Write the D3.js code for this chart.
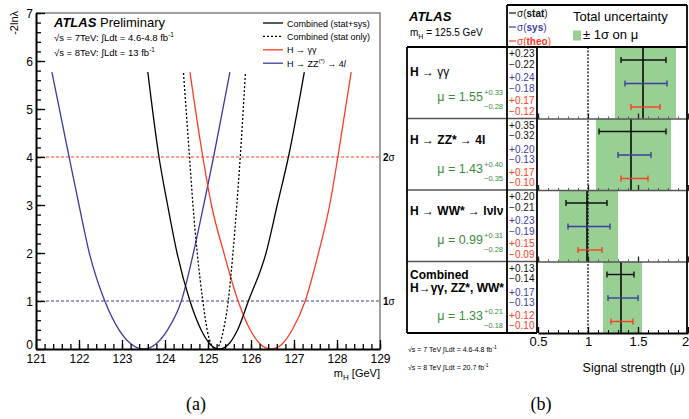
<!DOCTYPE html>
<html>
<head>
<meta charset="utf-8">
<script src="https://cdn.jsdelivr.net/npm/d3@7"></script>
<style>
  body { margin: 0; background: #fff; }
  svg { font-family: "Liberation Sans", Arial, sans-serif; }
</style>
</head>
<body>
<svg id="fig" width="689" height="419"></svg>
<script>
// ---- panel (a): -2 ln(lambda) scans, [mH, value]
var combined = [[123.60,5.77],[123.86,4.0],[124.06,3.0],[124.28,2.0],[124.58,1.0],[124.85,0.38],[125.05,0.1],[125.26,0],
                [125.50,0.12],[125.70,0.42],[125.94,1.0],[126.35,2.0],[126.61,3.0],[126.87,4.0],[127.24,5.77]];
var statOnly = [[124.43,5.75],[124.57,4.0],[124.65,3.0],[124.75,2.0],[124.88,1.0],[124.98,0.4],[125.07,0.1],[125.17,0],
                [125.27,0.1],[125.36,0.4],[125.47,1.0],[125.58,2.0],[125.67,3.0],[125.75,4.0],[125.87,5.75]];
var gamgam = [[124.58,5.77],[124.88,4.0],[125.08,3.0],[125.37,2.0],[125.70,1.0],[125.98,0.4],[126.22,0.1],[126.47,0],
              [126.72,0.1],[126.96,0.4],[127.26,1.0],[127.57,2.0],[127.83,3.0],[128.02,4.0],[128.33,5.77]];
var zz4l = [[121.37,5.77],[121.77,4.0],[122.00,3.0],[122.24,2.0],[122.60,1.0],[122.93,0.4],[123.22,0.1],[123.50,0],
            [123.78,0.1],[124.06,0.4],[124.38,1.0],[124.66,2.0],[124.90,3.0],[125.13,4.0],[125.51,5.77]];
var massTicks = [121, 122, 123, 124, 125, 126, 127, 128, 129];
var lnlTicks = [0, 1, 2, 3, 4, 5, 6, 7];
var sigmaLevels = [1, 4];
var sigmaNames = ["1", "2"];

// ---- panel (b): signal strength per channel
var channels = ["gg", "zz", "ww", "comb"];
var mu = [1.55, 1.43, 0.99, 1.33];
var totUp = [0.33, 0.40, 0.31, 0.21];
var totDn = [0.28, 0.35, 0.28, 0.18];
var statUp = [0.23, 0.35, 0.20, 0.13];
var statDn = [0.22, 0.32, 0.21, 0.14];
var sysUp = [0.24, 0.20, 0.23, 0.17];
var sysDn = [0.18, 0.13, 0.19, 0.13];
var theoUp = [0.17, 0.17, 0.15, 0.12];
var theoDn = [0.12, 0.10, 0.09, 0.10];
var muTicks = [0.5, 1, 1.5, 2];

var svg = d3.select("#fig");
var RED = "#ff3b22", BLUE = "#3c3ca2", GREEN = "#98cf92", GTXT = "#3d8c3d";

// =================== panel (a) ===================
var a = svg.append("g");
var x = d3.scaleLinear().domain([121, 129]).range([36, 380]);
var y = d3.scaleLinear().domain([0, 7]).range([349, 13]);

// frame (top / right, grey)
a.append("path")
  .attr("d", "M" + x(121) + "," + y(7) + "H" + x(129) + "V" + y(0))
  .attr("fill", "none").attr("stroke", "#808080").attr("stroke-width", 1.5);

// reference lines
a.selectAll(".ref").data(sigmaLevels).enter().append("line")
  .attr("x1", x(121)).attr("x2", x(129))
  .attr("y1", function(d) { return y(d); }).attr("y2", function(d) { return y(d); })
  .attr("stroke", function(d, i) { return i ? RED : BLUE; })
  .attr("stroke-width", 1).attr("stroke-dasharray", "3,2");
a.selectAll(".sig").data(sigmaLevels).enter().append("text")
  .attr("x", x(129) + 3).attr("y", function(d) { return y(d) + 4; })
  .attr("font-size", 10)
  .each(function(d, i) {
    var t = d3.select(this);
    t.append("tspan").attr("font-weight", "bold").text(sigmaNames[i]);
    t.append("tspan").text("σ");
  });

// curves
var line = d3.line()
  .x(function(d) { return x(d[0]); })
  .y(function(d) { return y(d[1]); })
  .curve(d3.curveMonotoneX);
var curves = [
  {data: zz4l, color: BLUE, dash: null},
  {data: gamgam, color: RED, dash: null},
  {data: statOnly, color: "#000", dash: "2,2"},
  {data: combined, color: "#000", dash: null}
];
a.selectAll(".curve").data(curves).enter().append("path")
  .attr("d", function(d) { return line(d.data); })
  .attr("fill", "none")
  .attr("stroke", function(d) { return d.color; })
  .attr("stroke-width", 1.3)
  .attr("stroke-dasharray", function(d) { return d.dash; });

// axes
var xAxis = d3.axisBottom(x).tickValues(massTicks).tickSizeInner(-9).tickSizeOuter(0).tickPadding(6);
var xMinor = d3.axisBottom(x).tickValues(d3.range(121, 129.001, 0.2)).tickSize(-5).tickFormat("");
var yAxis = d3.axisLeft(y).tickValues(lnlTicks).tickSizeInner(-9).tickSizeOuter(0).tickPadding(3)
  .tickFormat(d3.format("d"));
var yMinor = d3.axisLeft(y).tickValues(d3.range(0, 7.001, 0.2)).tickSize(-5).tickFormat("");

a.append("g").attr("transform", "translate(0," + y(0) + ")").call(xMinor).call(function(g) { g.select(".domain").remove(); });
a.append("g").attr("transform", "translate(" + x(121) + ",0)").call(yMinor).call(function(g) { g.select(".domain").remove(); });
a.append("g").attr("class", "xa").attr("transform", "translate(0," + y(0) + ")").call(xAxis);
a.append("g").attr("class", "ya").attr("transform", "translate(" + x(121) + ",0)").call(yAxis);
a.selectAll(".tick line").attr("stroke", "#000").attr("stroke-width", 1.3);
a.selectAll(".domain").attr("stroke", "#000").attr("stroke-width", 2);
a.selectAll(".xa text, .ya text").attr("font-size", 12).attr("font-family", null).attr("fill", "#000");
a.selectAll(".xa text").attr("dy", "0.66em");
a.selectAll(".ya text").attr("dy", "0.36em");
a.selectAll(".ya text").filter(function(d) { return d === 0; }).attr("dy", "-0.05em");

// axis titles
var xt = a.append("text").attr("x", x(129)).attr("y", 377).attr("text-anchor", "end").attr("font-size", 11);
xt.append("tspan").text("m");
xt.append("tspan").attr("font-size", 8).attr("dy", 3).text("H");
xt.append("tspan").attr("dy", -3).text(" [GeV]");
a.append("text").attr("transform", "translate(18,11) rotate(-90)")
  .attr("text-anchor", "end").attr("font-size", 11).text("-2lnλ");

// labels
var at = a.append("text").attr("x", 54).attr("y", 27).attr("font-size", 13);
at.append("tspan").attr("font-weight", "bold").attr("font-style", "italic").text("ATLAS");
at.append("tspan").text(" Preliminary");
a.append("text").attr("x", 54).attr("y", 41).attr("font-size", 9.5)
  .html('√s = 7TeV: ∫Ldt = 4.6-4.8 fb<tspan font-size="6.5" dy="-4">-1</tspan>');
a.append("text").attr("x", 54).attr("y", 56).attr("font-size", 9.5)
  .html('√s = 8TeV: ∫Ldt = 13 fb<tspan font-size="6.5" dy="-4">-1</tspan>');

// legend
var legA = [
  {t: "Combined (stat+sys)", c: "#000", dash: null},
  {t: "Combined (stat only)", c: "#000", dash: "2,2"},
  {t: 'H → γγ', c: RED, dash: null},
  {t: 'H → ZZ<tspan font-size="6" dy="-4">(*)</tspan><tspan dy="4"> → 4</tspan><tspan font-style="italic">l</tspan>', c: BLUE, dash: null}
];
var lg = a.selectAll(".lg").data(legA).enter().append("g")
  .attr("transform", function(d, i) { return "translate(263," + (23 + i * 13.4) + ")"; });
lg.append("line").attr("x1", 0).attr("x2", 20)
  .attr("stroke", function(d) { return d.c; }).attr("stroke-width", 1.3)
  .attr("stroke-dasharray", function(d) { return d.dash; });
lg.append("text").attr("x", 24).attr("y", 3.5).attr("font-size", 9).html(function(d) { return d.t; });

// (a)
svg.append("text").attr("x", 196).attr("y", 410).attr("text-anchor", "middle")
  .attr("font-family", "Liberation Serif, serif").attr("font-size", 18).text("(a)");

// =================== panel (b) ===================
var b = svg.append("g");
var xm = d3.scaleLinear().domain([0.5, 2]).range([538, 688]);
var row = d3.scaleBand().domain(channels).range([47, 333]);
var kind = d3.scalePoint().domain(["stat", "sys", "theo"]).range([13, 60]);
var kindColor = {stat: "#111", sys: BLUE, theo: RED};
var rh = row.bandwidth();

// green total-uncertainty bands and central values
channels.forEach(function(c, i) {
  var top = row(c);
  b.append("rect")
    .attr("x", xm(mu[i] - totDn[i])).attr("y", top)
    .attr("width", xm(mu[i] + totUp[i]) - xm(mu[i] - totDn[i])).attr("height", rh)
    .attr("fill", GREEN);
});
// mu = 1 dashed
b.append("line").attr("x1", xm(1)).attr("x2", xm(1)).attr("y1", 47).attr("y2", 333)
  .attr("stroke", "#000").attr("stroke-width", 1.2).attr("stroke-dasharray", "2,1.5");
channels.forEach(function(c, i) {
  var top = row(c);
  b.append("line").attr("x1", xm(mu[i])).attr("x2", xm(mu[i]))
    .attr("y1", top).attr("y2", top + rh).attr("stroke", "#000").attr("stroke-width", 1.5);
  var errs = [
    {k: "stat", lo: statDn[i], hi: statUp[i]},
    {k: "sys", lo: sysDn[i], hi: sysUp[i]},
    {k: "theo", lo: theoDn[i], hi: theoUp[i]}
  ];
  errs.forEach(function(e) {
    var yy = top + kind(e.k);
    var x0 = xm(mu[i] - e.lo), x1 = xm(mu[i] + e.hi);
    var g = b.append("g").attr("stroke", kindColor[e.k]).attr("stroke-width", 1.4);
    g.append("line").attr("x1", x0).attr("x2", x1).attr("y1", yy).attr("y2", yy);
    g.append("line").attr("x1", x0).attr("x2", x0).attr("y1", yy - 3).attr("y2", yy + 3);
    g.append("line").attr("x1", x1).attr("x2", x1).attr("y1", yy - 3).attr("y2", yy + 3);
  });
});

// row separators with their own small ticks
channels.slice(1).forEach(function(c) {
  var yy = row(c);
  b.append("line").attr("x1", 407).attr("x2", 537).attr("y1", yy).attr("y2", yy)
    .attr("stroke", "#555").attr("stroke-width", 1.6);
  b.append("g").attr("transform", "translate(0," + yy + ")")
    .call(d3.axisBottom(xm).tickValues(d3.range(0.5, 2.001, 0.1)).tickSize(-2).tickFormat(""))
    .call(function(g) { g.select(".domain").attr("stroke", "#555").attr("stroke-width", 1.6); g.selectAll("line").attr("stroke", "#555"); });
  b.append("g").attr("transform", "translate(0," + yy + ")")
    .call(d3.axisBottom(xm).tickValues(muTicks).tickSize(-5).tickFormat(""))
    .call(function(g) { g.select(".domain").remove(); g.selectAll("line").attr("stroke", "#222").attr("stroke-width", 1.3); });
});

// bottom axis
b.append("g").attr("transform", "translate(0,333)")
  .call(d3.axisBottom(xm).tickValues(d3.range(0.5, 2.001, 0.1)).tickSize(-3).tickFormat(""))
  .call(function(g) { g.select(".domain").remove(); g.selectAll("line").attr("stroke", "#000"); });
b.append("g").attr("class", "ba").attr("transform", "translate(0,333)")
  .call(d3.axisBottom(xm).tickValues(muTicks).tickSizeInner(-6).tickSizeOuter(0).tickPadding(4).tickFormat(d3.format("")))
  .call(function(g) {
    g.select(".domain").attr("stroke", "#000").attr("stroke-width", 2);
    g.selectAll("line").attr("stroke", "#000").attr("stroke-width", 1.3);
    g.selectAll("text").attr("font-size", 13).attr("font-family", null).attr("fill", "#000");
    g.selectAll("text").filter(function(d) { return d === 2; }).attr("dx", -3);
  });
b.append("text").attr("x", 685).attr("y", 372).attr("text-anchor", "end").attr("font-size", 12.5)
  .text("Signal strength (μ)");

// frame lines
var frame = [
  [407, 47, 687, 47], [407, 47, 407, 333], [407, 333, 537, 333],
  [507, 5, 507, 333], [537, 47, 537, 333], [507, 5, 687, 5], [687, 5, 687, 333]
];
b.selectAll(".fr").data(frame).enter().append("line")
  .attr("x1", function(d) { return d[0]; }).attr("y1", function(d) { return d[1]; })
  .attr("x2", function(d) { return d[2]; }).attr("y2", function(d) { return d[3]; })
  .attr("stroke", "#000").attr("stroke-width", 1.8);

// header texts
b.append("text").attr("x", 409).attr("y", 21).attr("font-size", 13)
  .attr("font-weight", "bold").attr("font-style", "italic").text("ATLAS");
b.append("text").attr("x", 410).attr("y", 36).attr("font-size", 10)
  .html('m<tspan font-size="7" dy="2.5">H</tspan><tspan dy="-2.5"> = 125.5 GeV</tspan>');

var kinds = ["stat", "sys", "theo"];
kinds.forEach(function(k, i) {
  var yy = 13 + i * 14;
  b.append("line").attr("x1", 509).attr("x2", 516).attr("y1", yy).attr("y2", yy)
    .attr("stroke", kindColor[k]).attr("stroke-width", 1.2);
  b.append("text").attr("x", 517).attr("y", yy + 3.5).attr("font-size", 10)
    .attr("fill", kindColor[k])
    .html('σ(<tspan font-weight="bold">' + k + '</tspan>)');
});
b.append("text").attr("x", 573).attr("y", 21).attr("font-size", 13).text("Total uncertainty");
b.append("rect").attr("x", 573).attr("y", 30.5).attr("width", 8).attr("height", 10).attr("fill", GREEN);
b.append("text").attr("x", 583).attr("y", 39).attr("font-size", 13).text("± 1σ on μ");

// row labels
var rowLabels = [
  ['<tspan font-weight="bold">H</tspan> → γγ'],
  ['<tspan font-weight="bold">H</tspan> → <tspan font-weight="bold">ZZ*</tspan> → <tspan font-weight="bold">4l</tspan>'],
  ['<tspan font-weight="bold">H</tspan> → <tspan font-weight="bold">WW*</tspan> → <tspan font-weight="bold">lνlν</tspan>'],
  ['<tspan font-weight="bold">Combined</tspan>', '<tspan font-weight="bold">H→γγ, ZZ*, WW*</tspan>']
];
var labelDy = [[29], [25], [25], [17, 30]];
var muDy = [54, 54, 54, 58];
channels.forEach(function(c, i) {
  var top = row(c);
  rowLabels[i].forEach(function(s, j) {
    b.append("text").attr("x", 410).attr("y", top + labelDy[i][j]).attr("font-size", 12).html(s);
  });
  b.append("text").attr("x", 483).attr("y", top + muDy[i]).attr("text-anchor", "end")
    .attr("font-size", 12.5).attr("fill", GTXT).text("μ = " + mu[i].toFixed(2));
  b.append("text").attr("x", 484).attr("y", top + muDy[i] - 6).attr("font-size", 7.5)
    .attr("fill", GTXT).text("+" + totUp[i].toFixed(2));
  b.append("text").attr("x", 484).attr("y", top + muDy[i] + 8).attr("font-size", 7.5)
    .attr("fill", GTXT).text("−" + totDn[i].toFixed(2));

  var nums = [
    {k: "stat", up: statUp[i], dn: statDn[i], dy: 10},
    {k: "sys", up: sysUp[i], dn: sysDn[i], dy: 34},
    {k: "theo", up: theoUp[i], dn: theoDn[i], dy: 57}
  ];
  nums.forEach(function(n) {
    [["+", n.up, 0], ["−", n.dn, 10.5]].forEach(function(p) {
      var t = b.append("text").attr("x", 509).attr("y", top + n.dy + p[2]).attr("font-size", 10)
        .attr("fill", kindColor[n.k]);
      t.append("tspan").text(p[0]);
      t.append("tspan").attr("x", 515).text(p[1].toFixed(2));
    });
  });
});

// luminosity notes
b.append("text").attr("x", 408).attr("y", 352).attr("font-size", 7)
  .html('√s = 7 TeV ∫Ldt = 4.6-4.8 fb<tspan font-size="5" dy="-3">-1</tspan>');
b.append("text").attr("x", 408).attr("y", 370).attr("font-size", 7)
  .html('√s = 8 TeV ∫Ldt = 20.7 fb<tspan font-size="5" dy="-3">-1</tspan>');

svg.append("text").attr("x", 541).attr("y", 410).attr("text-anchor", "middle")
  .attr("font-family", "Liberation Serif, serif").attr("font-size", 18).text("(b)");
</script>
</body>
</html>
